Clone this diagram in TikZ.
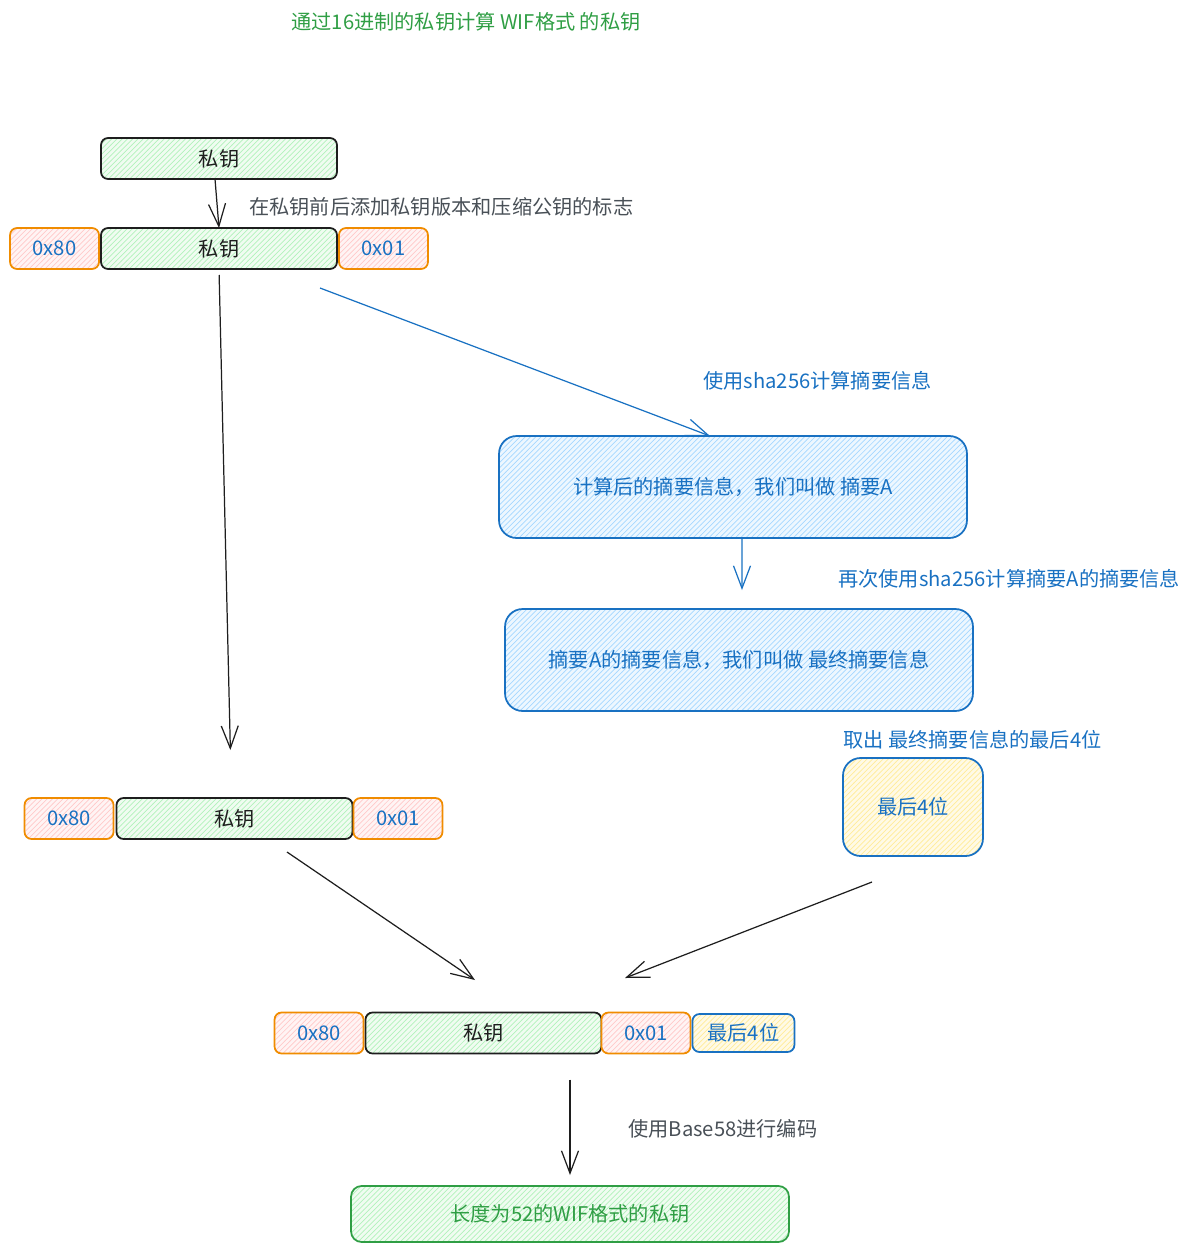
\documentclass[tikz,border=0pt]{standalone}
\usepackage{fontspec}
\setmainfont{Noto Sans CJK SC}
\usepackage{xcolor}
\usetikzlibrary{arrows.meta, positioning, patterns, calc}

\definecolor{inkblack}{HTML}{1E1E1E}
\definecolor{inkgray}{HTML}{495057}
\definecolor{exgreen}{HTML}{2F9E44}
\definecolor{exblue}{HTML}{1971C2}
\definecolor{exorange}{HTML}{F08C00}
\definecolor{hatchgreen}{HTML}{B2F2BB}
\definecolor{hatchred}{HTML}{FFC9C9}
\definecolor{hatchblue}{HTML}{A5D8FF}
\definecolor{hatchyellow}{HTML}{FFEC99}

\begin{document}
\begin{tikzpicture}[
    x=0.02cm, y=-0.02cm,
    font=\fontsize{11.5}{13}\selectfont,
    keybox/.style={rectangle, rounded corners=4pt, draw=inkblack, line width=1pt, outer sep=0pt, pattern=north east lines, pattern color=hatchgreen, preaction={fill=hatchgreen!20}, minimum width=4.72cm, minimum height=0.82cm, text=inkblack},
    flagbox/.style={keybox, draw=exorange, pattern color=hatchred, preaction={fill=hatchred!20}, minimum width=1.78cm, text=exblue},
    digbox/.style={keybox, rounded corners=10pt, draw=exblue, pattern color=hatchblue, preaction={fill=hatchblue!20}, minimum width=9.36cm, minimum height=2.04cm, text=exblue},
    tailbox/.style={keybox, draw=exblue, pattern color=hatchyellow, preaction={fill=hatchyellow!25}, minimum width=2.04cm, minimum height=0.76cm, text=exblue},
    wifbox/.style={keybox, rounded corners=6pt, draw=exgreen, minimum width=8.76cm, minimum height=1.12cm, text=exgreen},
    arrow/.style={line width=0.7pt, draw=inkblack, -{Straight Barb[length=4.5mm,width=3.4mm]}},
    bluearrow/.style={arrow, draw=exblue},
    note/.style={anchor=west, inner sep=0pt, text=inkgray},
    bluenote/.style={note, text=exblue}
]
\useasboundingbox (0,0) rectangle (1178,1252);

\node[text=exgreen] (title) at (466,22) {通过16进制的私钥计算 WIF格式 的私钥};

\node[keybox] (key1) at (219,158.5) {私钥};
\node[keybox] (key2) at (219,248.5) {私钥};
\node[flagbox, left=0.04cm of key2] (ver2) {0x80};
\node[flagbox, right=0.04cm of key2] (cmp2) {0x01};

\node[digbox] (digA) at (733,487) {计算后的摘要信息，我们叫做 摘要A};
\node[digbox] (digB) at (739,660) {摘要A的摘要信息，我们叫做 最终摘要信息};
\node[tailbox, rounded corners=10pt, minimum width=2.8cm, minimum height=1.96cm] (last4) at (913,807) {最后4位};

\node[keybox] (key3) at (234.5,818.5) {私钥};
\node[flagbox, left=0.06cm of key3] (ver3) {0x80};
\node[flagbox, right=0.02cm of key3] (cmp3) {0x01};

\node[keybox] (key4) at (483.5,1033) {私钥};
\node[flagbox, left=0.04cm of key4] (ver4) {0x80};
\node[flagbox, right=0cm of key4] (cmp4) {0x01};
\node[tailbox, right=0.04cm of cmp4] (tail4) {最后4位};

\node[wifbox] (wif) at (570,1214) {长度为52的WIF格式的私钥};

\node[note] (addflag) at (249,207) {在私钥前后添加私钥版本和压缩公钥的标志};
\node[bluenote] (sha1) at (703,381) {使用sha256计算摘要信息};
\node[bluenote] (sha2) at (838,579) {再次使用sha256计算摘要A的摘要信息};
\node[bluenote] (take) at (843,740) {取出 最终摘要信息的最后4位};
\node[note] (encode) at (628,1129) {使用Base58进行编码};

\coordinate (shaStart) at (320,288);
\coordinate (leftStart) at (287,852);
\coordinate (leftEnd) at (475,980);
\coordinate (rightStart) at (872,882);
\coordinate (rightEnd) at (625,978);

\draw[arrow] ([xshift=-0.08cm]key1.south) -- (key2.north);
\draw[arrow, shorten >=0.96cm, shorten <=0.12cm] (key2.south) -- ([xshift=-0.06cm]key3.north);
\draw[bluearrow] (shaStart) -- ([xshift=-0.46cm]digA.north);
\draw[bluearrow, shorten >=0.38cm] ([xshift=0.18cm]digA.south) -- ([xshift=0.06cm]digB.north);
\draw[arrow] (leftStart) -- (leftEnd);
\draw[arrow] (rightStart) -- (rightEnd);
\draw[arrow, shorten <=0.52cm, shorten >=0.22cm] (key4.south -| wif.north) -- (wif.north);

\end{tikzpicture}
\end{document}
